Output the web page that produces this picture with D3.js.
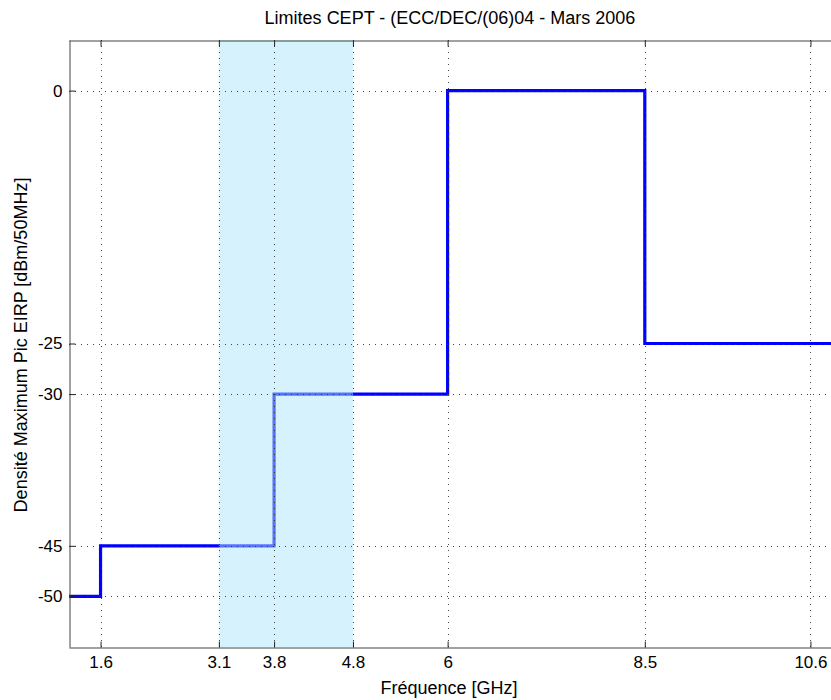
<!DOCTYPE html>
<html><head><meta charset="utf-8">
<script src="https://cdn.jsdelivr.net/npm/d3@7"></script>
<style>body{margin:0;background:#fff;} text{font-family:"Liberation Sans",Arial,sans-serif;}</style>
</head><body>
<svg id="c" width="831" height="700"></svg>
<script>
const title = "Limites CEPT - (ECC/DEC/(06)04 - Mars 2006";
const xLabel = "Fréquence [GHz]";
const yLabel = "Densité Maximum Pic EIRP [dBm/50MHz]";
const xTicks = [1.6, 3.1, 3.8, 4.8, 6, 8.5, 10.6];
const yTicks = [-50, -45, -30, -25, 0];
const stepFreq = [1.2, 1.6, 3.8, 6.0, 8.5, 11];
const stepLevel = [-50, -45, -30, 0, -25, -25];
const band = [3.1, 4.8];
const xDomain = [1.2, 11];
const yDomain = [-55, 5];

const svg = d3.select("#c");
const L = 69, T = 40, R = 842, B = 647;
const x = d3.scaleLinear().domain(xDomain).range([L, R]);
const y = d3.scaleLinear().domain(yDomain).range([B, T]);
const fmt = d => String(d);

svg.append("defs").append("clipPath").attr("id","clip")
  .append("rect").attr("x",L).attr("y",T).attr("width",R-L).attr("height",B-T);

const g = svg.append("g").attr("clip-path","url(#clip)");
const pts = stepFreq.map((f,i)=>[f, stepLevel[i]]);
g.append("path").datum(pts)
  .attr("d", d3.line().x(d=>x(d[0])).y(d=>y(d[1])).curve(d3.curveStepAfter))
  .attr("fill","none").attr("stroke","#0000ff").attr("stroke-width",3.2);
g.append("rect").attr("x",x(band[0])).attr("y",T).attr("width",x(band[1])-x(band[0])).attr("height",B-T)
  .attr("fill","rgb(172,229,251)").attr("opacity",0.5);
g.selectAll(".gx").data(xTicks).join("line")
  .attr("x1",d=>Math.round(x(d))+0.5).attr("x2",d=>Math.round(x(d))+0.5).attr("y1",T).attr("y2",B)
  .attr("stroke","#333").attr("stroke-width",1).attr("stroke-dasharray","1,5").attr("opacity",0.9);
g.selectAll(".gy").data(yTicks).join("line")
  .attr("y1",d=>Math.round(y(d))+0.5).attr("y2",d=>Math.round(y(d))+0.5).attr("x1",L).attr("x2",R)
  .attr("stroke","#333").attr("stroke-width",1).attr("stroke-dasharray","1,5").attr("opacity",0.9);

const ax = svg.append("g").attr("transform",`translate(0,${B+0.5})`)
  .call(d3.axisBottom(x).tickValues(xTicks).tickFormat(fmt).tickSizeInner(-6).tickSizeOuter(0).tickPadding(8));
const axT = svg.append("g").attr("transform",`translate(0,${T+0.5})`)
  .call(d3.axisTop(x).tickValues(xTicks).tickFormat("").tickSizeInner(-6).tickSizeOuter(0));
const ay = svg.append("g").attr("transform",`translate(${L+0.5},0)`)
  .call(d3.axisLeft(y).tickValues(yTicks).tickFormat(fmt).tickSizeInner(-6).tickSizeOuter(0).tickPadding(7));
[ax,axT,ay].forEach(a=>{
  a.attr("font-family",null).attr("font-size",null);
  a.select(".domain").attr("stroke","#444").attr("stroke-width",1);
  a.selectAll(".tick line").attr("stroke","#222");
  a.selectAll("text").attr("fill","#000").style("font-size","17px");
});

svg.append("text").attr("x",450).attr("y",24).attr("text-anchor","middle").style("font-size","18px").text(title);
svg.append("text").attr("x",449).attr("y",694).attr("text-anchor","middle").style("font-size","18px").text(xLabel);
svg.append("text").attr("transform","translate(27,345) rotate(-90)").attr("text-anchor","middle").style("font-size","18px").text(yLabel);
</script>
</body></html>
